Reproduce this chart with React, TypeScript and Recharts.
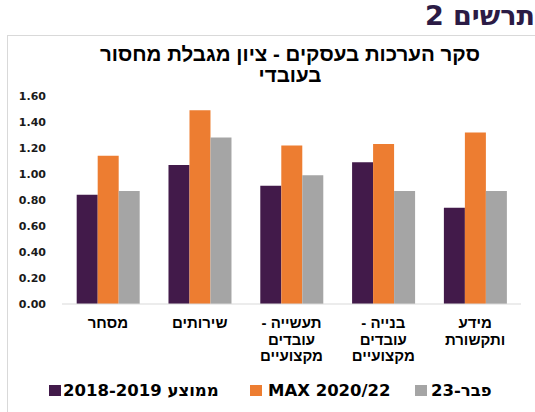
import React from "react";
import { Bar, BarChart, XAxis, YAxis } from "recharts";

const categories = [
  "מסחר",
  "שירותים",
  "תעשייה -\nעובדים\nמקצועיים",
  "בנייה -\nעובדים\nמקצועיים",
  "מידע\nותקשורת",
];

const avg2018_2019 = [0.84, 1.07, 0.91, 1.09, 0.74];
const max2020_22 = [1.14, 1.49, 1.22, 1.23, 1.32];
const feb23 = [0.87, 1.28, 0.99, 0.87, 0.87];

const yTicks = [0, 0.2, 0.4, 0.6, 0.8, 1.0, 1.2, 1.4, 1.6];
const edgeTicks = [0, 1, 2, 3, 4, 5];

const series = [
  { key: "avg", name: "ממוצע 2018-2019", color: "#421A4A" },
  { key: "max", name: "MAX 2020/22", color: "#ED7D31" },
  { key: "feb", name: "פבר-23", color: "#A5A5A5" },
];

// legend item x positions
const legendLeft = [49, 250, 415];
const legendGap = [2, 6, 4];

const data = categories.map((name, i) => ({
  name,
  idx: i + 0.5,
  avg: avg2018_2019[i],
  max: max2020_22[i],
  feb: feb23[i],
}));

const hebFont = "'Liberation Sans', Arial, sans-serif";
const numFont = "'DejaVu Sans', sans-serif";

function CategoryTick(props: any) {
  const { x, y, payload } = props;
  const lines = String(payload.value).split("\n");
  return (
    <g>
      {lines.map((line, i) => (
        <text
          key={i}
          x={x}
          y={y + 24 + i * 16.5}
          textAnchor="middle"
          fill="#000"
          fontSize={15}
          fontWeight="bold"
          fontFamily={hebFont}
          style={{ direction: "rtl", unicodeBidi: "embed" }}
        >
          {line}
        </text>
      ))}
    </g>
  );
}

export default function App() {
  return (
    <div
      style={{
        position: "absolute",
        left: 0,
        top: 0,
        width: 535,
        height: 412,
        background: "#fff",
        overflow: "hidden",
      }}
    >
      <div
        style={{
          position: "absolute",
          right: 0,
          top: 0,
          fontFamily: numFont,
          fontWeight: "bold",
          fontSize: 27,
          lineHeight: "31px",
          color: "#2B1B45",
          direction: "rtl",
          whiteSpace: "nowrap",
        }}
      >
        תרשים 2
      </div>
      <div
        style={{
          position: "absolute",
          left: 7,
          top: 35,
          width: 535,
          height: 400,
          borderTop: "1px solid #d9d9d9",
          borderLeft: "1px solid #d9d9d9",
        }}
      />
      <div
        style={{
          position: "absolute",
          left: 80,
          width: 420,
          top: 43,
          textAlign: "center",
          fontFamily: hebFont,
          fontWeight: "bold",
          fontSize: 20.5,
          lineHeight: "21px",
          color: "#000",
          direction: "rtl",
        }}
      >
        סקר הערכות בעסקים - ציון מגבלת מחסור
        <br />
        בעובדי
      </div>
      <div style={{ position: "absolute", left: 0, top: 0 }}>
        <BarChart
          width={535}
          height={412}
          data={data}
          margin={{ top: 96, right: 14, bottom: 48, left: 0 }}
          barCategoryGap="16%"
          barGap={0}
        >
          <XAxis
            xAxisId="edges"
            type="number"
            dataKey="idx"
            domain={[0, 5]}
            ticks={edgeTicks}
            height={0}
            axisLine={false}
            tickLine={{ stroke: "#d9d9d9" }}
            tickSize={5}
            tick={() => <g />}
          />
          <XAxis
            dataKey="name"
            height={60}
            axisLine={{ stroke: "#d9d9d9" }}
            tickLine={false}
            tickSize={0}
            tickMargin={0}
            interval={0}
            tick={<CategoryTick />}
          />
          <YAxis
            width={62}
            domain={[0, 1.6]}
            ticks={yTicks}
            axisLine={false}
            tickLine={false}
            tickMargin={10}
            interval={0}
            tickFormatter={(v: number) => v.toFixed(2)}
            tick={{
              fill: "#1a1a1a",
              fontSize: 11,
              fontWeight: "bold",
              fontFamily: numFont,
            }}
          />
          {series.map((s) => (
            <Bar
              key={s.key}
              dataKey={s.key}
              name={s.name}
              fill={s.color}
              isAnimationActive={false}
            />
          ))}
        </BarChart>
      </div>
      {series.map((s, i) => (
        <div
          key={s.key}
          style={{
            position: "absolute",
            left: legendLeft[i],
            top: 380,
            height: 20,
            display: "flex",
            alignItems: "center",
            fontFamily: numFont,
            fontWeight: "bold",
            fontSize: 16.5,
            color: "#000",
            whiteSpace: "nowrap",
          }}
        >
          <span
            style={{
              display: "inline-block",
              width: 12,
              height: 11,
              background: s.color,
              marginRight: legendGap[i],
            }}
          />
          <span style={{ direction: "rtl", unicodeBidi: "embed" }}>{s.name}</span>
        </div>
      ))}
    </div>
  );
}
